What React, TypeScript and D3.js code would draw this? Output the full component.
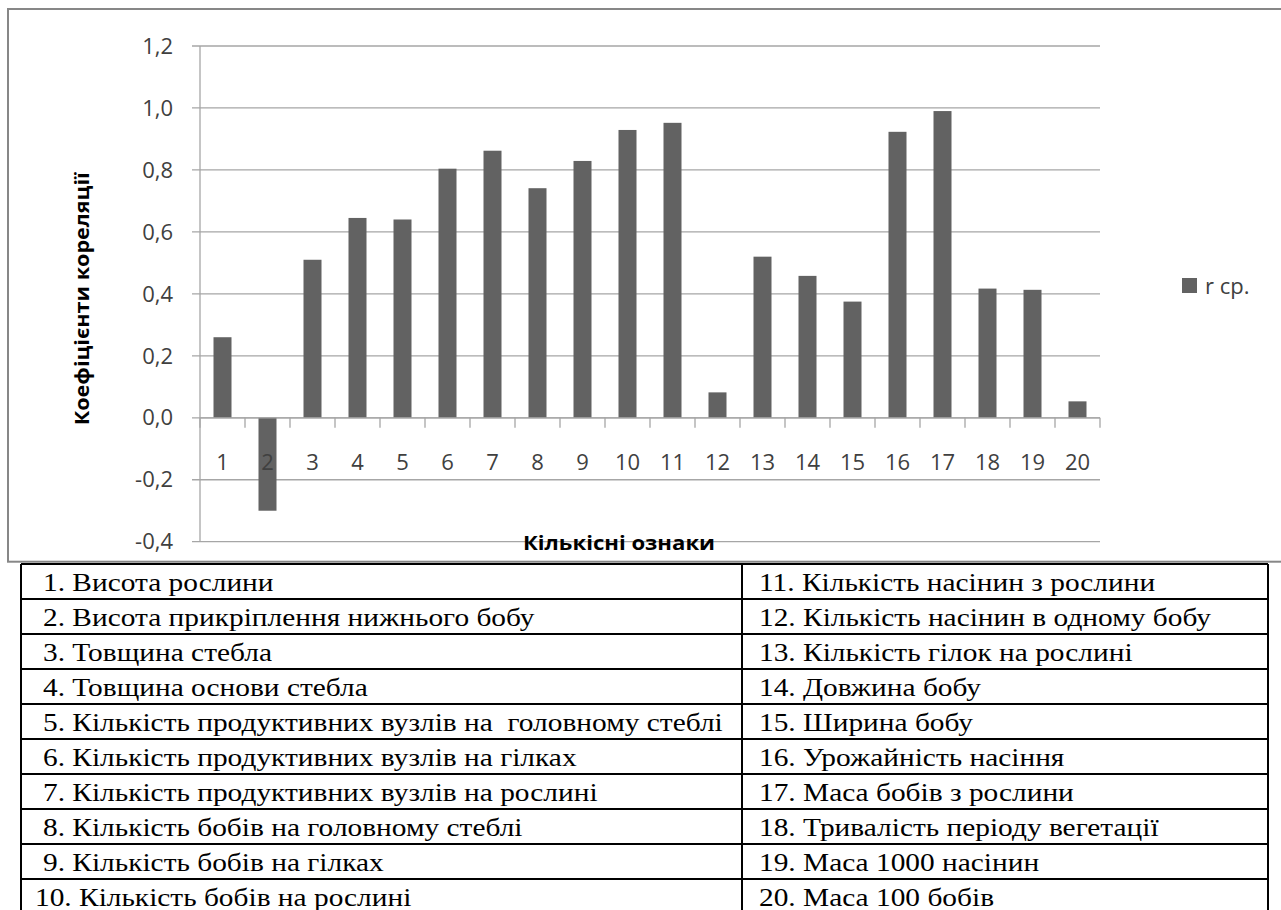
import * as d3 from "d3";

const categories = ["1","2","3","4","5","6","7","8","9","10","11","12","13","14","15","16","17","18","19","20"];
const rValues = [0.26, -0.3, 0.51, 0.645, 0.64, 0.804, 0.862, 0.741, 0.829, 0.929, 0.952, 0.082, 0.52, 0.458, 0.375, 0.923, 0.99, 0.417, 0.413, 0.053];
const yTicks = [-0.4, -0.2, 0, 0.2, 0.4, 0.6, 0.8, 1.0, 1.2];
const seriesName = "r ср.";
const yTitle = "Коефіцієнти кореляції";
const xTitle = "Кількісні ознаки";

const leftLabels = [
  "1. Висота рослини",
  "2. Висота прикріплення нижнього бобу",
  "3. Товщина стебла",
  "4. Товщина основи стебла",
  "5. Кількість продуктивних вузлів на  головному стеблі",
  "6. Кількість продуктивних вузлів на гілках",
  "7. Кількість продуктивних вузлів на рослині",
  "8. Кількість бобів на головному стеблі",
  "9. Кількість бобів на гілках",
  "10. Кількість бобів на рослині",
];
const rightLabels = [
  "11. Кількість насінин з рослини",
  "12. Кількість насінин в одному бобу",
  "13. Кількість гілок на рослині",
  "14. Довжина бобу",
  "15. Ширина бобу",
  "16. Урожайність насіння",
  "17. Маса бобів з рослини",
  "18. Тривалість періоду вегетації",
  "19. Маса 1000 насінин",
  "20. Маса 100 бобів",
];

const W = 1281;
const H = 910;
const plot = { left: 200, right: 1100, top: 46, bottom: 541.7 };
const sansFont = "'Open Sans', 'DejaVu Sans', sans-serif";
const serifFont = "'Liberation Serif', 'DejaVu Serif', serif";
const gridColor = "#a6a6a6";
const barColor = "#626262";
const textColor = "#404040";

export default function App() {
  const x = d3
    .scaleBand<string>()
    .domain(categories)
    .range([plot.left, plot.right])
    .paddingInner(0.6)
    .paddingOuter(0.3);
  const step = x.step();
  const y = d3.scaleLinear().domain([-0.4, 1.2]).range([plot.bottom, plot.top]);
  const fmt = (v: number) => d3.format(".1f")(v).replace(".", ",").replace("−", "-");

  // table geometry
  const tTop = 564;
  const rowH = 35;
  const tLeft = 21;
  const tMid = 742;
  const tRight = 1268;
  const rows = d3.range(leftLabels.length);
  const stretch = 1.13;

  return (
    <svg
      width={W}
      height={H}
      style={{ position: "absolute", left: 0, top: 0, display: "block", background: "#fff" }}
    >
      {/* chart frame */}
      <rect x={8} y={9} width={1300} height={552.7} fill="#fff" stroke="#878787" strokeWidth={2} />

      {/* gridlines */}
      {yTicks.map((t) => (
        <line key={"g" + t} x1={plot.left - 8} x2={plot.right} y1={y(t)} y2={y(t)} stroke={gridColor} strokeWidth={1.3} />
      ))}
      {yTicks.map((t) => (
        <text
          key={"yl" + t}
          x={173}
          y={y(t)}
          dy="0.35em"
          textAnchor="end"
          fontFamily={sansFont}
          fontSize={22}
          fill={textColor}
        >
          {fmt(t)}
        </text>
      ))}

      {/* bars */}
      {categories.map((c, i) => {
        const v = rValues[i];
        return (
          <rect
            key={"b" + c}
            x={x(c)}
            width={x.bandwidth()}
            y={Math.min(y(v), y(0))}
            height={Math.abs(y(v) - y(0))}
            fill={barColor}
          />
        );
      })}

      {/* y axis */}
      <line x1={plot.left} x2={plot.left} y1={plot.top} y2={plot.bottom} stroke={gridColor} strokeWidth={1.3} />
      {/* x axis at zero with ticks */}
      <line x1={plot.left} x2={plot.right} y1={y(0)} y2={y(0)} stroke={gridColor} strokeWidth={1.3} />
      {d3.range(categories.length + 1).map((k) => (
        <line
          key={"t" + k}
          x1={plot.left + k * step}
          x2={plot.left + k * step}
          y1={y(0)}
          y2={y(0) + 10}
          stroke={gridColor}
          strokeWidth={1.3}
        />
      ))}
      {categories.map((c) => (
        <text
          key={"xl" + c}
          x={(x(c) ?? 0) + x.bandwidth() / 2}
          y={462}
          dy="0.35em"
          textAnchor="middle"
          fontFamily={sansFont}
          fontSize={22}
          fill={textColor}
        >
          {c}
        </text>
      ))}

      {/* axis titles */}
      <text
        transform={`translate(82, ${(plot.top + plot.bottom) / 2 + 5}) rotate(-90)`}
        textAnchor="middle"
        dy="0.35em"
        fontFamily={sansFont}
        fontSize={20}
        fontWeight="bold"
        fill="#000"
        textLength={253}
        lengthAdjust="spacingAndGlyphs"
      >
        {yTitle}
      </text>
      <text
        x={619}
        y={543}
        dy="0.35em"
        textAnchor="middle"
        fontFamily={sansFont}
        fontSize={20}
        fontWeight="bold"
        fill="#000"
        textLength={192}
        lengthAdjust="spacingAndGlyphs"
      >
        {xTitle}
      </text>

      {/* legend */}
      <rect x={1182} y={278} width={15} height={15} fill={barColor} />
      <text x={1205} y={286} dy="0.35em" fontFamily={sansFont} fontSize={22} fill={textColor}>
        {seriesName}
      </text>

      {/* table */}
      <g>
        <rect x={0} y={tTop} width={W} height={H - tTop} fill="#fff" />
        {rows.map((r) => (
          <g key={"row" + r}>
            <text
              transform={`translate(${leftLabels[r].startsWith("10") ? 35 : 43}, ${tTop + r * rowH + 27}) scale(${stretch}, 1)`}
              fontFamily={serifFont}
              fontSize={26}
              fill="#000"
              style={{ whiteSpace: "pre" }}
            >
              {leftLabels[r]}
            </text>
            <text
              transform={`translate(759, ${tTop + r * rowH + 27}) scale(${stretch}, 1)`}
              fontFamily={serifFont}
              fontSize={26}
              fill="#000"
              style={{ whiteSpace: "pre" }}
            >
              {rightLabels[r]}
            </text>
          </g>
        ))}
        {d3.range(leftLabels.length + 1).map((k) => (
          <line
            key={"h" + k}
            x1={tLeft}
            x2={tRight}
            y1={tTop + k * rowH}
            y2={tTop + k * rowH}
            stroke="#000"
            strokeWidth={2}
          />
        ))}
        {[tLeft, tMid, tRight].map((vx) => (
          <line key={"v" + vx} x1={vx} x2={vx} y1={tTop} y2={tTop + leftLabels.length * rowH} stroke="#000" strokeWidth={2} />
        ))}
      </g>
    </svg>
  );
}
